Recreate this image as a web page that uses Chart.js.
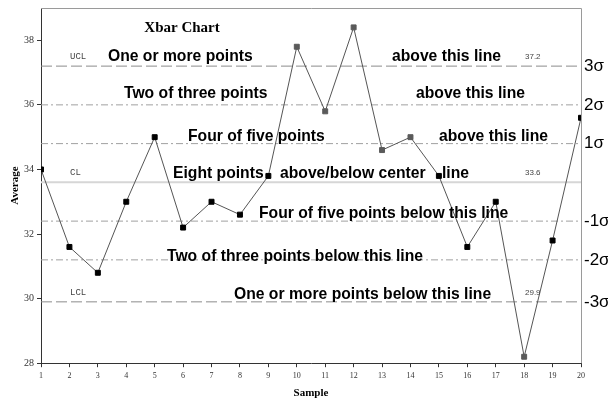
<!DOCTYPE html>
<html>
<head>
<meta charset="utf-8">
<script src="https://cdn.jsdelivr.net/npm/chart.js@4.4.1/dist/chart.umd.min.js"></script>
<style>
  body { margin: 0; background: #fff; }
  #wrap { width: 608px; height: 400px; }
</style>
</head>
<body>
<div id="wrap"><canvas id="chart" width="608" height="400"></canvas></div>
<script>
// datos del grafico
const samples = [1, 2, 3, 4, 5, 6, 7, 8, 9, 10, 11, 12, 13, 14, 15, 16, 17, 18, 19, 20];
const averages = [34.0, 31.6, 30.8, 33.0, 35.0, 32.2, 33.0, 32.6, 33.8, 37.8,
                  35.8, 38.4, 34.6, 35.0, 33.8, 31.6, 33.0, 28.2, 31.8, 35.6];
const flaggedSamples = [10, 11, 12, 13, 14, 18];   // puntos fuera de control (gris)

const yTicks = [28, 30, 32, 34, 36, 38];
const ucl = 37.2;
const cl = 33.6;
const lcl = 29.9;
const sigmaLevels = [37.2, 36.0, 34.8, 32.4, 31.2, 29.9];
const sigmaLabels = ["3σ", "2σ", "1σ", "-1σ", "-2σ", "-3σ"];

// textos de reglas: [texto, nivel de la linea, x en px desde el borde izq., px sobre la linea]
const ruleTexts = [
  ["One or more points", ucl, 67, 10],
  ["above this line", ucl, 351, 10],
  ["Two of three points", 36.0, 83, 12],
  ["above this line", 36.0, 375, 12],
  ["Four of five points", 34.8, 147, 8],
  ["above this line", 34.8, 398, 8],
  ["Eight points", cl, 132, 9],
  ["above/below center", cl, 239, 9],
  ["line", cl, 401, 9],
  ["Four of five points below this line", 32.4, 218, 8],
  ["Two of three points below this line", 31.2, 126, 4],
  ["One or more points below this line", lcl, 193, 8]
];
const limitNames = [["UCL", ucl], ["CL", cl], ["LCL", lcl]];

const puntos = samples.map((s, i) => ({ x: s, y: averages[i] }));
const colores = samples.map(s => flaggedSamples.includes(s) ? "#5a5a5a" : "#000");

function lineaHorizontal(valor, color, dash, ancho) {
  return {
    type: "line",
    data: [{ x: samples[0], y: valor }, { x: samples[samples.length - 1], y: valor }],
    borderColor: color,
    borderDash: dash,
    borderWidth: ancho,
    pointRadius: 0,
    order: 2
  };
}

const textosPlugin = {
  id: "textos",
  afterDatasetsDraw(chart) {
    const ctx = chart.ctx;
    const area = chart.chartArea;
    const y = chart.scales.y;
    ctx.save();
    ctx.textBaseline = "alphabetic";
    ctx.textAlign = "left";

    // marco superior y derecho
    ctx.strokeStyle = "#9a9a9a";
    ctx.lineWidth = 1;
    ctx.beginPath();
    ctx.moveTo(area.left, area.top + 0.5);
    ctx.lineTo(area.right + 0.5, area.top + 0.5);
    ctx.lineTo(area.right + 0.5, area.bottom);
    ctx.stroke();

    // titulo
    ctx.fillStyle = "#000";
    ctx.font = "bold 15px 'Liberation Serif', 'Times New Roman', serif";
    ctx.textAlign = "center";
    ctx.fillText("Xbar Chart", area.left + 141, area.top + 24);

    // reglas
    ctx.textAlign = "left";
    ctx.font = "bold 15.7px 'Liberation Sans', Arial, sans-serif";
    ruleTexts.forEach(([txt, nivel, dx, arriba]) => {
      ctx.fillText(txt, area.left + dx, y.getPixelForValue(nivel) - arriba + 5);
    });

    // nombres de limites y valores
    limitNames.forEach(([nombre, valor]) => {
      const py = y.getPixelForValue(valor) - 10 + 3;
      ctx.fillStyle = "#444";
      ctx.font = "9px 'Liberation Mono', 'Courier New', monospace";
      ctx.fillText(nombre, area.left + 29, py);
      ctx.font = "8px 'Liberation Sans', Arial, sans-serif";
      ctx.fillText(valor.toFixed(1), area.left + 484, py);
    });
    ctx.restore();
  }
};

new Chart(document.getElementById("chart"), {
  type: "line",
  data: {
    datasets: [
      {
        data: puntos,
        borderColor: "#555",
        borderWidth: 1,
        pointStyle: "rect",
        pointRadius: 3.5,
        pointBackgroundColor: colores,
        pointBorderColor: colores,
        order: 1
      },
      lineaHorizontal(ucl, "#8c8c8c", [11, 4], 1),
      lineaHorizontal(sigmaLevels[1], "#a0a0a0", [7, 3, 2, 3], 1),
      lineaHorizontal(sigmaLevels[2], "#a0a0a0", [7, 3, 2, 3], 1),
      lineaHorizontal(cl, "#d6d6d6", [], 2),
      lineaHorizontal(sigmaLevels[3], "#a0a0a0", [7, 3, 2, 3], 1),
      lineaHorizontal(sigmaLevels[4], "#a0a0a0", [7, 3, 2, 3], 1),
      lineaHorizontal(lcl, "#8c8c8c", [11, 4], 1)
    ]
  },
  options: {
    responsive: false,
    animation: false,
    layout: { padding: { top: 8, left: 9, right: 0, bottom: 0 } },
    plugins: {
      legend: { display: false },
      tooltip: { enabled: false }
    },
    scales: {
      x: {
        type: "linear",
        min: 1,
        max: 20,
        ticks: {
          stepSize: 1,
          autoSkip: false,
          maxRotation: 0,
          padding: 4,
          color: "#333",
          font: { family: "'Liberation Serif', serif", size: 8 }
        },
        grid: { drawOnChartArea: false, tickLength: 4, color: "#333" },
        border: { color: "#333" },
        title: {
          display: true,
          text: "Sample",
          color: "#000",
          padding: { top: 2, bottom: 0 },
          font: { family: "'Liberation Serif', serif", size: 11, weight: "bold" }
        }
      },
      y: {
        min: 28,
        max: 39,
        afterBuildTicks(axis) { axis.ticks = yTicks.map(v => ({ value: v })); },
        afterFit(axis) { axis.width = 32; axis.paddingTop = 0; axis.paddingBottom = 0; },
        ticks: {
          padding: 3,
          color: "#333",
          font: { family: "'Liberation Serif', serif", size: 10 }
        },
        grid: { drawOnChartArea: false, tickLength: 4, color: "#333" },
        border: { color: "#333" },
        title: {
          display: true,
          text: "Average",
          color: "#000",
          padding: 0,
          font: { family: "'Liberation Serif', serif", size: 11, weight: "bold" }
        }
      },
      y2: {
        position: "right",
        min: 28,
        max: 39,
        afterBuildTicks(axis) { axis.ticks = sigmaLevels.map(v => ({ value: v })); },
        afterFit(axis) { axis.width = 27; axis.paddingTop = 0; axis.paddingBottom = 0; },
        ticks: {
          padding: 3,
          color: "#000",
          callback: (v, i) => sigmaLabels[i],
          font: { family: "'Liberation Sans', Arial, sans-serif", size: 17 }
        },
        grid: { display: false, drawTicks: false },
        border: { display: false }
      }
    }
  },
  plugins: [textosPlugin]
});
</script>
</body>
</html>
